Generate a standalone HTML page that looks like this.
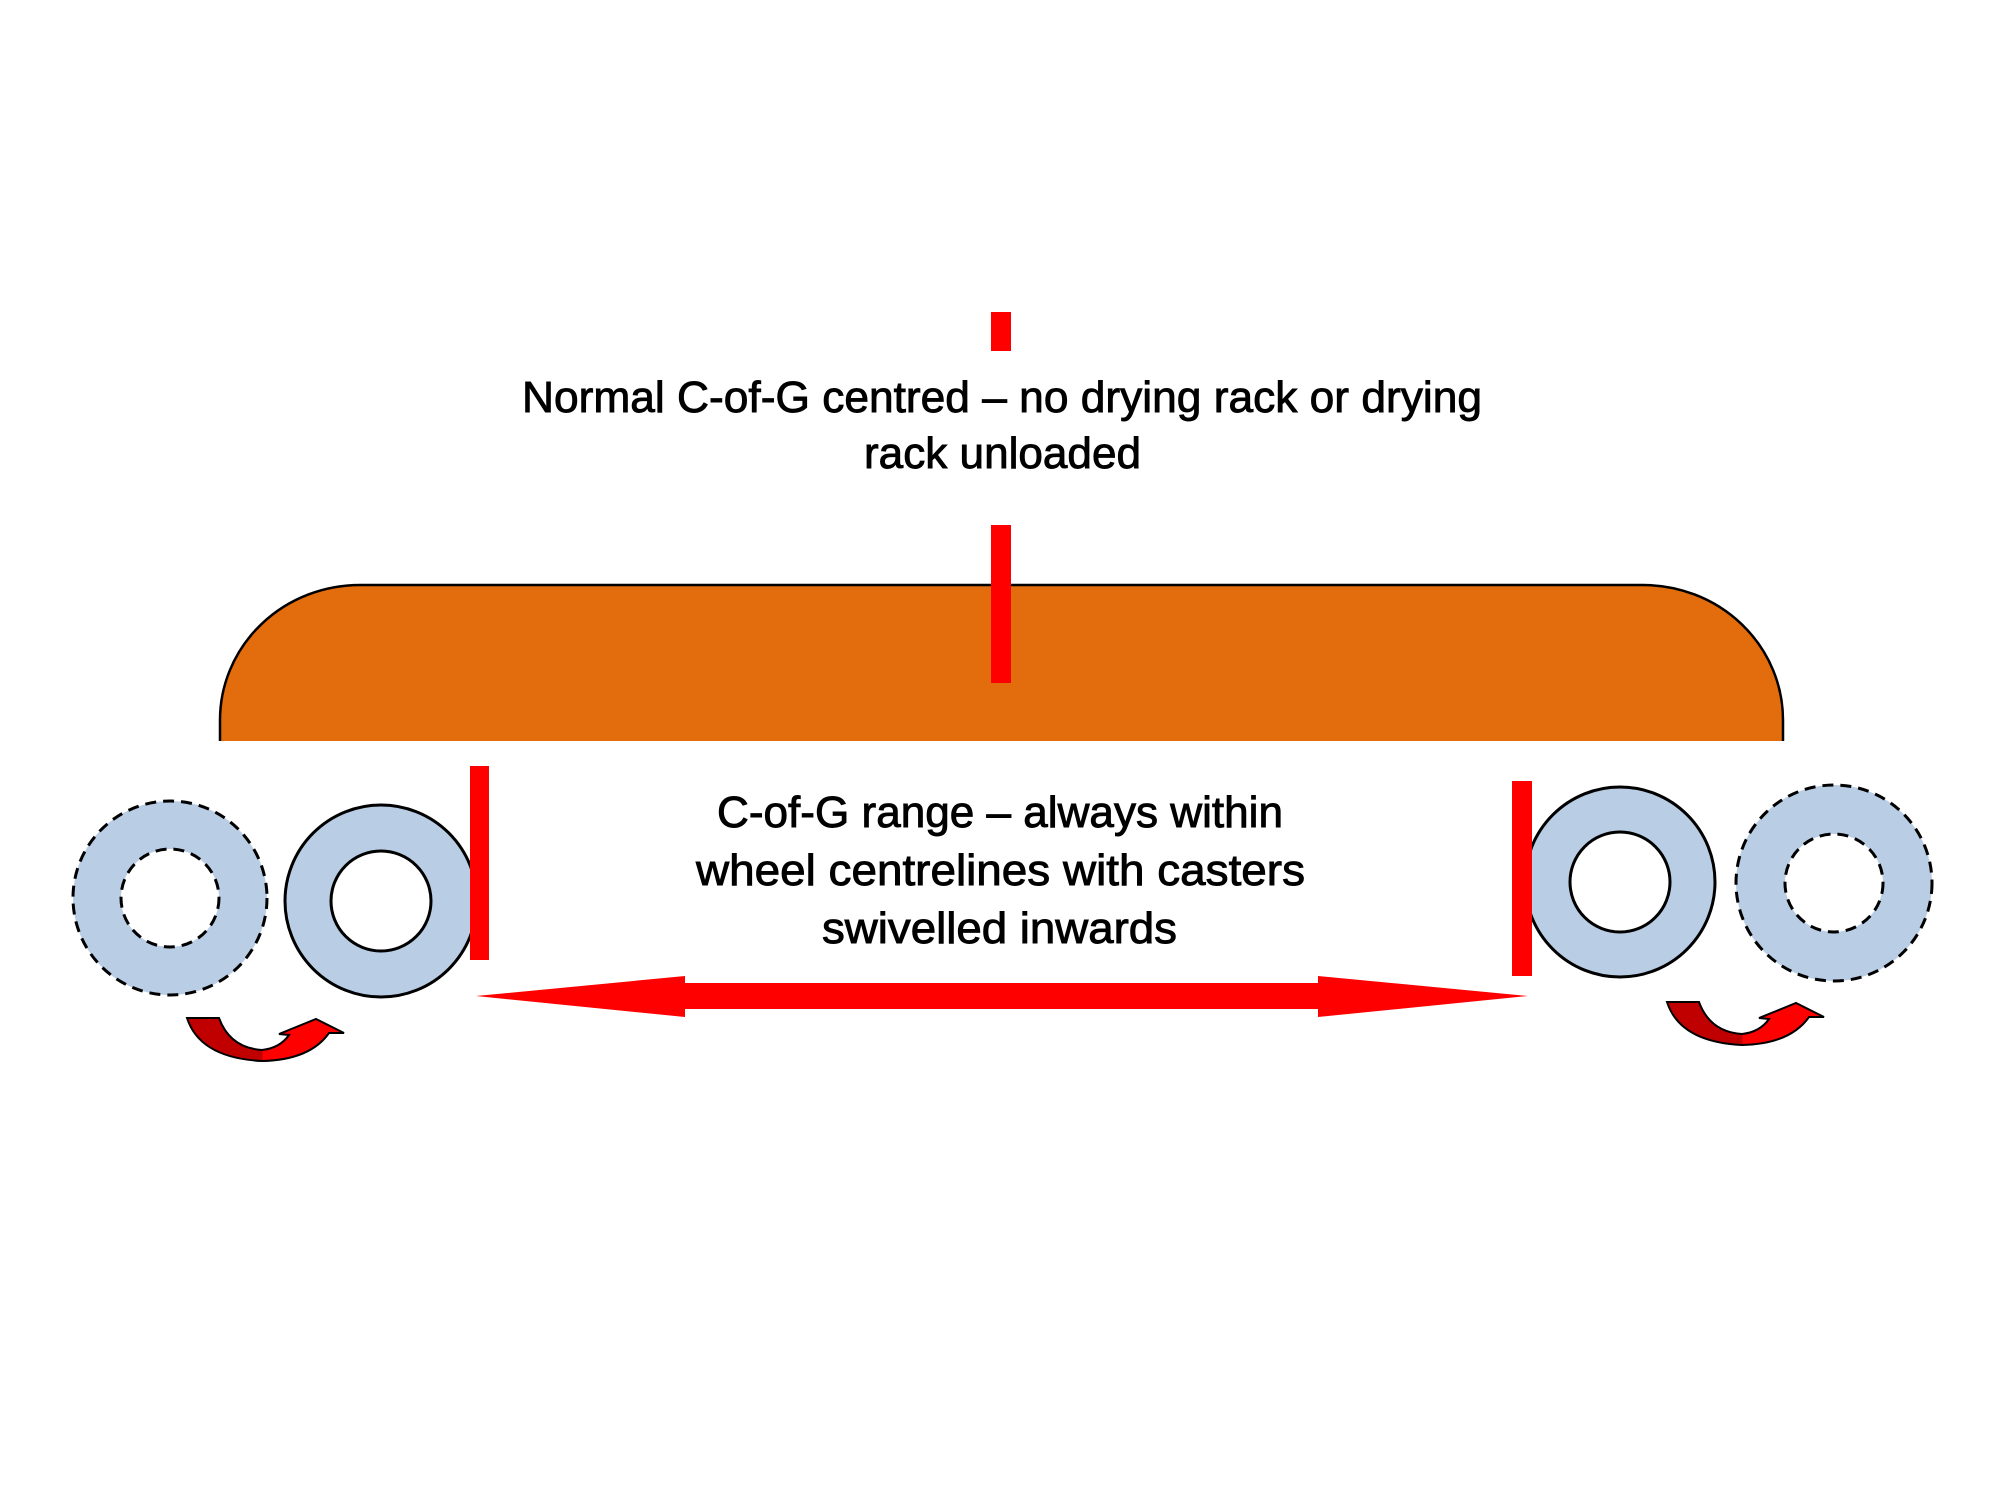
<!DOCTYPE html>
<html><head><meta charset="utf-8"><style>html,body{margin:0;padding:0;background:#fff}svg{display:block}</style></head>
<body>
<svg width="2000" height="1499" viewBox="0 0 2000 1499" xmlns="http://www.w3.org/2000/svg">
<defs>
<linearGradient id="g" x1="187" x2="344" y1="0" y2="0" gradientUnits="userSpaceOnUse">
<stop offset="0" stop-color="#C00000"/><stop offset="0.48" stop-color="#C00000"/><stop offset="0.48" stop-color="#FF0000"/><stop offset="1" stop-color="#FF0000"/>
</linearGradient>
</defs>
<path d="M220,741 L220,720 A140,135 0 0 1 360,585 L1643,585 A140,135 0 0 1 1783,720 L1783,741 Z" fill="#E36C0C"/>
<path d="M220,741 L220,720 A140,135 0 0 1 360,585 L1643,585 A140,135 0 0 1 1783,720 L1783,741" fill="none" stroke="#000" stroke-width="2.5"/>
<rect x="991" y="312" width="20" height="39" fill="#FF0000"/>
<rect x="991" y="525" width="20" height="158" fill="#FF0000"/>
<g font-family="'Liberation Sans', sans-serif" font-size="44" fill="#000" stroke="#000" stroke-width="0.9">
<text x="522" y="412" textLength="960" lengthAdjust="spacingAndGlyphs">Normal C-of-G centred – no drying rack or drying</text>
<text x="864" y="468" textLength="277" lengthAdjust="spacingAndGlyphs">rack unloaded</text>
<text x="717" y="827" textLength="566" lengthAdjust="spacingAndGlyphs">C-of-G range – always within</text>
<text x="696" y="885" textLength="609" lengthAdjust="spacingAndGlyphs">wheel centrelines with casters</text>
<text x="822" y="943" textLength="355" lengthAdjust="spacingAndGlyphs">swivelled inwards</text>
</g>
<circle cx="170" cy="898" r="97" fill="#B9CDE5" stroke="#000" stroke-width="3" stroke-dasharray="11 7"/>
<circle cx="170" cy="898" r="49" fill="#fff" stroke="#000" stroke-width="3" stroke-dasharray="11 7"/>
<circle cx="381" cy="901" r="96" fill="#B9CDE5" stroke="#000" stroke-width="3"/>
<circle cx="381" cy="901" r="50" fill="#fff" stroke="#000" stroke-width="3"/>
<circle cx="1620" cy="882" r="95" fill="#B9CDE5" stroke="#000" stroke-width="3"/>
<circle cx="1620" cy="882" r="50" fill="#fff" stroke="#000" stroke-width="3"/>
<circle cx="1834" cy="883" r="98" fill="#B9CDE5" stroke="#000" stroke-width="3" stroke-dasharray="11 7"/>
<circle cx="1834" cy="883" r="49" fill="#fff" stroke="#000" stroke-width="3" stroke-dasharray="11 7"/>
<rect x="470" y="766" width="19" height="194" fill="#FF0000"/>
<rect x="1512" y="781" width="20" height="195" fill="#FF0000"/>
<polygon points="476,996 685,976 685,983 1318,983 1318,976 1528,996 1318,1017 1318,1009 685,1009 685,1017" fill="#FF0000"/>
<path d="M187,1018 L219,1018 Q230,1048 262,1050 Q280,1048 289,1035 L279,1034 L316,1019 L344,1033 L329,1033 Q310,1060 262,1061 Q200,1058 187,1018 Z" fill="url(#g)" stroke="#000" stroke-width="2"/>
<g transform="translate(1480,-16)">
<path d="M187,1018 L219,1018 Q230,1048 262,1050 Q280,1048 289,1035 L279,1034 L316,1019 L344,1033 L329,1033 Q310,1060 262,1061 Q200,1058 187,1018 Z" fill="url(#g)" stroke="#000" stroke-width="2"/>
</g>
</svg>
</body></html>
